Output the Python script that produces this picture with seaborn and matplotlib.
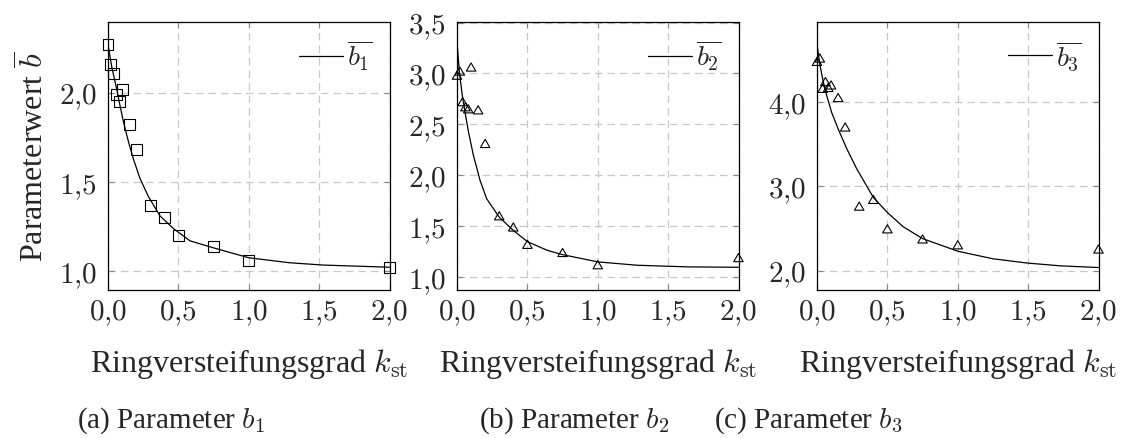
import numpy as np
import pandas as pd
import seaborn as sns
import matplotlib
matplotlib.use("Agg")
import matplotlib.pyplot as plt
from matplotlib.path import Path

# ---------------- data ----------------
b1_k = [0.0, 0.02, 0.04, 0.10, 0.06, 0.08, 0.15, 0.20, 0.30, 0.40, 0.50, 0.75, 1.0, 2.0]
b1_val = [2.27, 2.16, 2.11, 2.02, 1.99, 1.95, 1.82, 1.68, 1.37, 1.30, 1.20, 1.14, 1.06, 1.02]

b2_k = [0.0, 0.02, 0.10, 0.04, 0.06, 0.08, 0.15, 0.20, 0.30, 0.40, 0.50, 0.75, 1.0, 2.0]
b2_val = [2.97, 3.01, 3.05, 2.71, 2.66, 2.64, 2.63, 2.30, 1.59, 1.48, 1.31, 1.23, 1.11, 1.18]

b3_k = [0.0, 0.02, 0.04, 0.06, 0.08, 0.10, 0.15, 0.20, 0.30, 0.40, 0.50, 0.75, 1.0, 2.0]
b3_val = [4.47, 4.51, 4.15, 4.23, 4.16, 4.19, 4.04, 3.69, 2.75, 2.83, 2.48, 2.36, 2.29, 2.24]

# fitted curves
c1_k = [0.0, 0.028, 0.062, 0.085, 0.109, 0.144, 0.18, 0.227, 0.286, 0.369, 0.463, 0.582, 0.752, 1.0, 1.29, 1.53, 2.0]
c1_val = [2.27, 2.14, 2.02, 1.93, 1.84, 1.73, 1.63, 1.52, 1.42, 1.31, 1.24, 1.17, 1.13, 1.075, 1.047, 1.034, 1.022]

c2_k = [0.0, 0.017, 0.038, 0.057, 0.081, 0.116, 0.164, 0.211, 0.30, 0.40, 0.50, 0.64, 0.75, 1.0, 1.28, 1.64, 2.0]
c2_val = [3.31, 3.01, 2.78, 2.62, 2.43, 2.20, 1.95, 1.77, 1.59, 1.46, 1.35, 1.265, 1.222, 1.151, 1.118, 1.102, 1.098]

c3_k = [0.0, 0.021, 0.045, 0.069, 0.104, 0.151, 0.211, 0.282, 0.40, 0.50, 0.613, 0.75, 1.0, 1.25, 1.49, 1.73, 2.0]
c3_val = [4.69, 4.44, 4.24, 4.08, 3.88, 3.68, 3.45, 3.21, 2.87, 2.69, 2.52, 2.38, 2.23, 2.14, 2.09, 2.056, 2.036]

x_ticks = [0.0, 0.5, 1.0, 1.5, 2.0]
x_ticklabels = ["0,0", "0,5", "1,0", "1,5", "2,0"]
y_ticks = [[1.0, 1.5, 2.0], [1.0, 1.5, 2.0, 2.5, 3.0, 3.5], [2.0, 3.0, 4.0]]
y_ticklabels = [["1,0", "1,5", "2,0"],
                ["1,0", "1,5", "2,0", "2,5", "3,0", "3,5"],
                ["2,0", "3,0", "4,0"]]
y_limits = [(0.897, 2.40), (0.88, 3.51), (1.775, 4.96)]
legend_labels = [r"$\overline{b_1}$", r"$\overline{b_2}$", r"$\overline{b_3}$"]
captions = [r"(a) Parameter $b_1$", r"(b) Parameter $b_2$", r"(c) Parameter $b_3$"]
xlabel = r"Ringversteifungsgrad $k_{\mathrm{st}}$"
ylabel = r"Parameterwert $\overline{b}$"

# ---------------- styling ----------------
sns.set_theme(style="white")
plt.rcParams["font.family"] = ["Liberation Serif", "DejaVu Serif"]
plt.rcParams["mathtext.fontset"] = "cm"

W, H = 1128, 439
fig = plt.figure(figsize=(W / 100, H / 100), dpi=100)

lefts = [108, 457, 817]
width_px = 281.5
top_px, bot_px = 22.5, 290.5

tri = Path([(0, 1), (-0.866, -0.5), (0.866, -0.5), (0, 1)],
           [Path.MOVETO, Path.LINETO, Path.LINETO, Path.CLOSEPOLY])
markers = ["s", tri, tri]
msizes = [62, 62, 62]

pts = [(b1_k, b1_val), (b2_k, b2_val), (b3_k, b3_val)]
curves = [(c1_k, c1_val), (c2_k, c2_val), (c3_k, c3_val)]
cap_x = [171, 574, 808]

for i in range(3):
    ax = fig.add_axes([lefts[i] / W, 1 - bot_px / H, width_px / W, (bot_px - top_px) / H])
    ax.set_axisbelow(True)
    ax.grid(True, color="#c8c8c8", linestyle=(0, (6, 4)), linewidth=0.9)

    cdf = pd.DataFrame({"k": curves[i][0], "b": curves[i][1]})
    sns.lineplot(data=cdf, x="k", y="b", ax=ax, color="black", linewidth=0.9,
                 sort=False, estimator=None, label=legend_labels[i])
    pdf = pd.DataFrame({"k": pts[i][0], "b": pts[i][1]})
    sns.scatterplot(data=pdf, x="k", y="b", ax=ax, marker=markers[i], s=msizes[i],
                    color="black", legend=False, zorder=3)
    coll = ax.collections[-1]
    coll.set_facecolor("none")
    coll.set_edgecolor("black")
    coll.set_linewidth(0.8)
    coll.set_clip_on(False)

    ax.set_xlim(0, 2)
    ax.set_ylim(*y_limits[i])
    ax.set_xticks(x_ticks)
    ax.set_xticklabels(["$" + t.replace(",", "{,}") + "$" for t in x_ticklabels])
    ax.set_yticks(y_ticks[i])
    ax.set_yticklabels(["$" + t.replace(",", "{,}") + "$" for t in y_ticklabels[i]])
    for lbl in ax.get_xticklabels() + ax.get_yticklabels():
        lbl.set_fontsize(21)
        lbl.set_math_fontfamily("cm")
    ax.tick_params(axis="both", direction="in", length=4, width=0.8, color="#888888",
                   top=True, right=True, bottom=True, left=True)
    ax.tick_params(axis="x", pad=5.5)
    ax.tick_params(axis="y", pad=8)
    for sp in ax.spines.values():
        sp.set_color("black")
        sp.set_linewidth(0.9)

    ax.set_xlabel(xlabel, fontsize=23, labelpad=14)
    if i == 0:
        ax.set_ylabel(ylabel, fontsize=23, labelpad=6)
    else:
        ax.set_ylabel("")

    leg = ax.legend(loc="upper right", frameon=False, fontsize=20, handlelength=1.6,
                    handletextpad=0.15, borderaxespad=0.2)
    for t in leg.get_texts():
        t.set_math_fontfamily("cm")

    fig.text(cap_x[i] / W, 1 - 421 / H, captions[i], fontsize=21, ha="center", va="center",
             math_fontfamily="cm")

fig.savefig("out.png", dpi=100)
